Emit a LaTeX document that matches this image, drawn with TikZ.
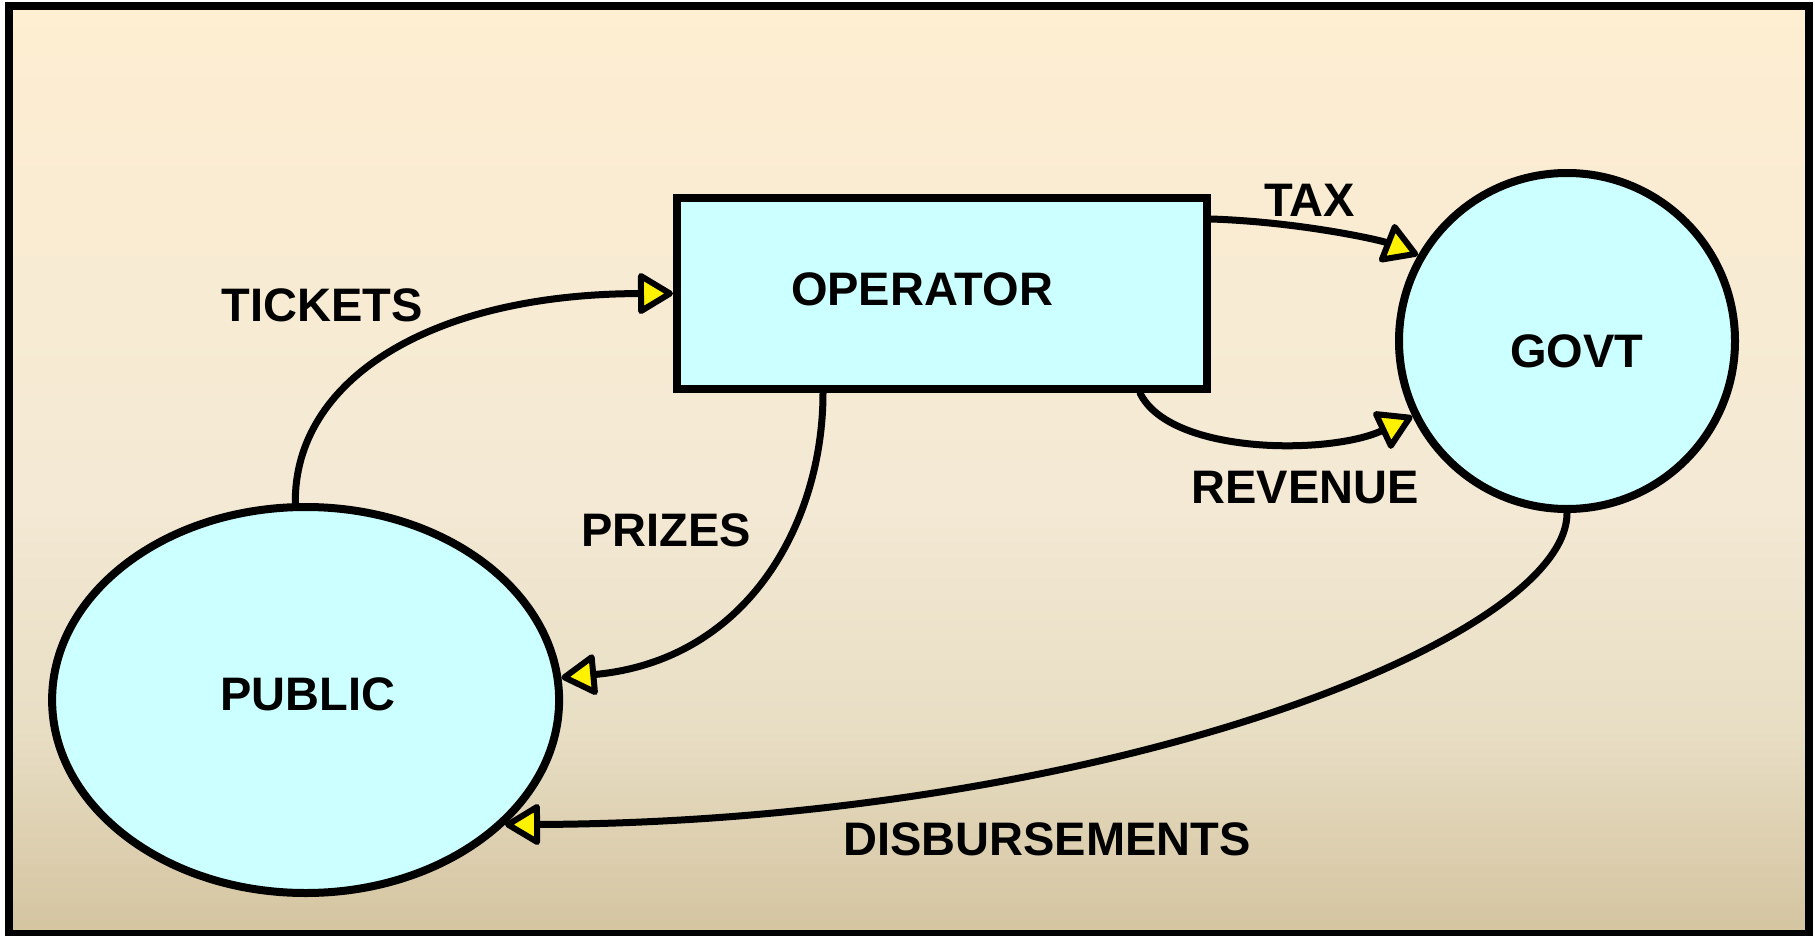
\documentclass[tikz,border=0pt]{standalone}
\usepackage{fontspec}
\setmainfont{Liberation Sans}
\usetikzlibrary{arrows.meta,shapes.geometric}
\definecolor{nodefill}{RGB}{204,255,255}
\definecolor{bgtop}{RGB}{254,238,210}
\definecolor{bgmid}{RGB}{243,233,212}
\definecolor{bglow}{RGB}{232,222,196}
\definecolor{bgbot}{RGB}{212,196,160}
% panel background: warm light at the top, darker tan at the bottom
% (the path box spans 25bp..75bp of the shading)
\pgfdeclareverticalshading{panel}{100bp}{color(0bp)=(bgbot); color(25bp)=(bgbot); color(36bp)=(bglow); color(48bp)=(bgmid); color(75bp)=(bgtop); color(100bp)=(bgtop)}
\begin{document}
\begin{tikzpicture}[x=1pt,y=-1pt,
  shapeline/.style={draw=black,line width=8pt,fill=nodefill,inner sep=0pt},
  flow/.style={draw=black,line width=7pt,line cap=round,line join=round,
    -{Triangle[length=38pt,width=44pt,fill=yellow,line width=6pt,line join=round]}},
  lbl/.style={font=\fontsize{47}{47}\selectfont\bfseries,text=black,inner sep=0pt}]
\useasboundingbox (0,0) rectangle (1815,936);
\shade[shading=panel] (9,6) rectangle (1809,934);
\draw[line width=7.5pt] (9,6) rectangle (1809,934);

% the three parties
\node[shapeline,rectangle,minimum width=530pt,minimum height=191pt] (oper) at (942,293.5) {};
\node[shapeline,circle,minimum size=336pt] (govt) at (1567,341) {};
\node[shapeline,ellipse,minimum width=507pt,minimum height=386pt] (public) at (305.6,700) {};

\node[lbl] (toper) at (922,289) {OPERATOR};
\node[lbl] (tgovt) at (1577,351) {GOVT};
\node[lbl] (tpublic) at (308,694) {PUBLIC};

% flows of money
\draw[flow] (public.93) .. controls (294,380) and (430,294) .. (oper.west);
\draw[flow] ([xshift=-119pt]oper.south) .. controls (823,520) and (750,660) .. (public.5);
\draw[flow] ([yshift=-25pt]oper.north east) .. controls (1300,222) and (1380,240) .. (govt.150);
\draw[flow] ([xshift=-71pt]oper.south east) .. controls (1170,455) and (1330,455) .. (govt.206);
\draw[flow] (govt.south) .. controls (1567,640) and (1100,822) .. (public.-32);

\node[lbl] (ltickets) at (322,305) {TICKETS};
\node[lbl] (lprizes) at (666,530) {PRIZES};
\node[lbl] (ltax) at (1310,200) {TAX};
\node[lbl] (lrevenue) at (1305,488) {REVENUE};
\node[lbl] (ldisb) at (1047,839) {DISBURSEMENTS};
\end{tikzpicture}
\end{document}
